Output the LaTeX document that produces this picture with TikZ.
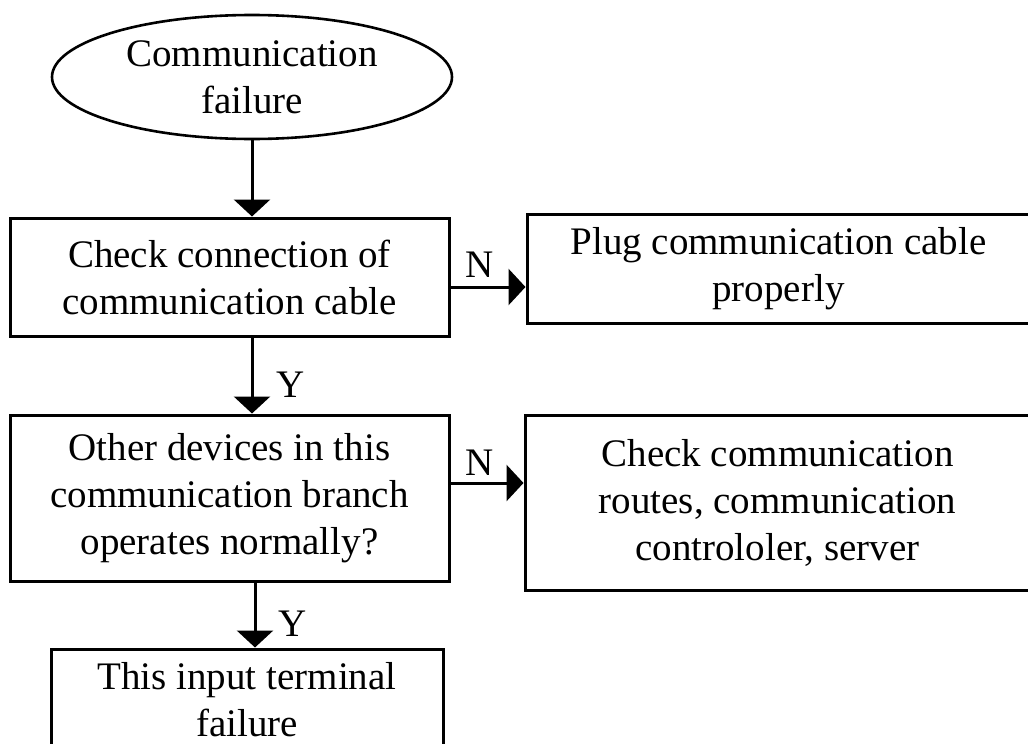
\documentclass[tikz,border=0pt]{standalone}
\usepackage{fontspec}
\setmainfont{Liberation Serif}
\usetikzlibrary{shapes.geometric,arrows.meta,calc}
\begin{document}
\begin{tikzpicture}[x=1pt,y=-1pt,
  every node/.style={font=\fontsize{39}{47}\selectfont, align=center, inner sep=0pt},
  boxnode/.style={draw, line width=3pt, rectangle},
  startnode/.style={draw, line width=2.6pt, ellipse},
  arr/.style={line width=3pt, -{Triangle[length=17pt,width=36pt]}},
  lbl/.style={font=\fontsize{39}{47}\selectfont}]
\useasboundingbox (0,0) rectangle (1028,744);
\node[startnode, minimum width=400pt, minimum height=124pt] (e) at (252,77) {Communication\\failure};
\node[boxnode, minimum width=439pt, minimum height=118pt] (b1) at (229.5,277) {Check connection of\\communication cable};
\node[boxnode, minimum width=503pt, minimum height=109pt] (b2) at (778.5,268.5) {Plug communication cable\\properly};
\node[boxnode, minimum width=439pt, minimum height=166pt] (b3) at (229.5,498) {Other devices in this\\communication branch\\operates normally?};
\node[boxnode, minimum width=505pt, minimum height=175pt] (b4) at (777.5,502.5) {Check communication\\routes, communication\\controloler, server};
\node[boxnode, minimum width=392pt, minimum height=102pt] (b5) at (247,700) {This input terminal\\failure};
\coordinate (c1) at (252,0);
\coordinate (c2) at (0,287);
\coordinate (c3) at (0,483);
\coordinate (c4) at (255,0);
\draw[arr] (e.south) -- (e.south |- b1.north);
\draw[arr] (b1.east |- c2) -- (b2.west |- c2);
\draw[arr] (c1 |- b1.south) -- (c1 |- b3.north);
\draw[arr] (b3.east |- c3) -- (b4.west |- c3);
\draw[arr] (c4 |- b3.south) -- (c4 |- b5.north);
\node[lbl] (n1) at (480,265) {N};
\node[lbl] (n2) at (480,463) {N};
\node[lbl] (y1) at (291,385) {Y};
\node[lbl] (y2) at (293,624) {Y};
\end{tikzpicture}
\end{document}
